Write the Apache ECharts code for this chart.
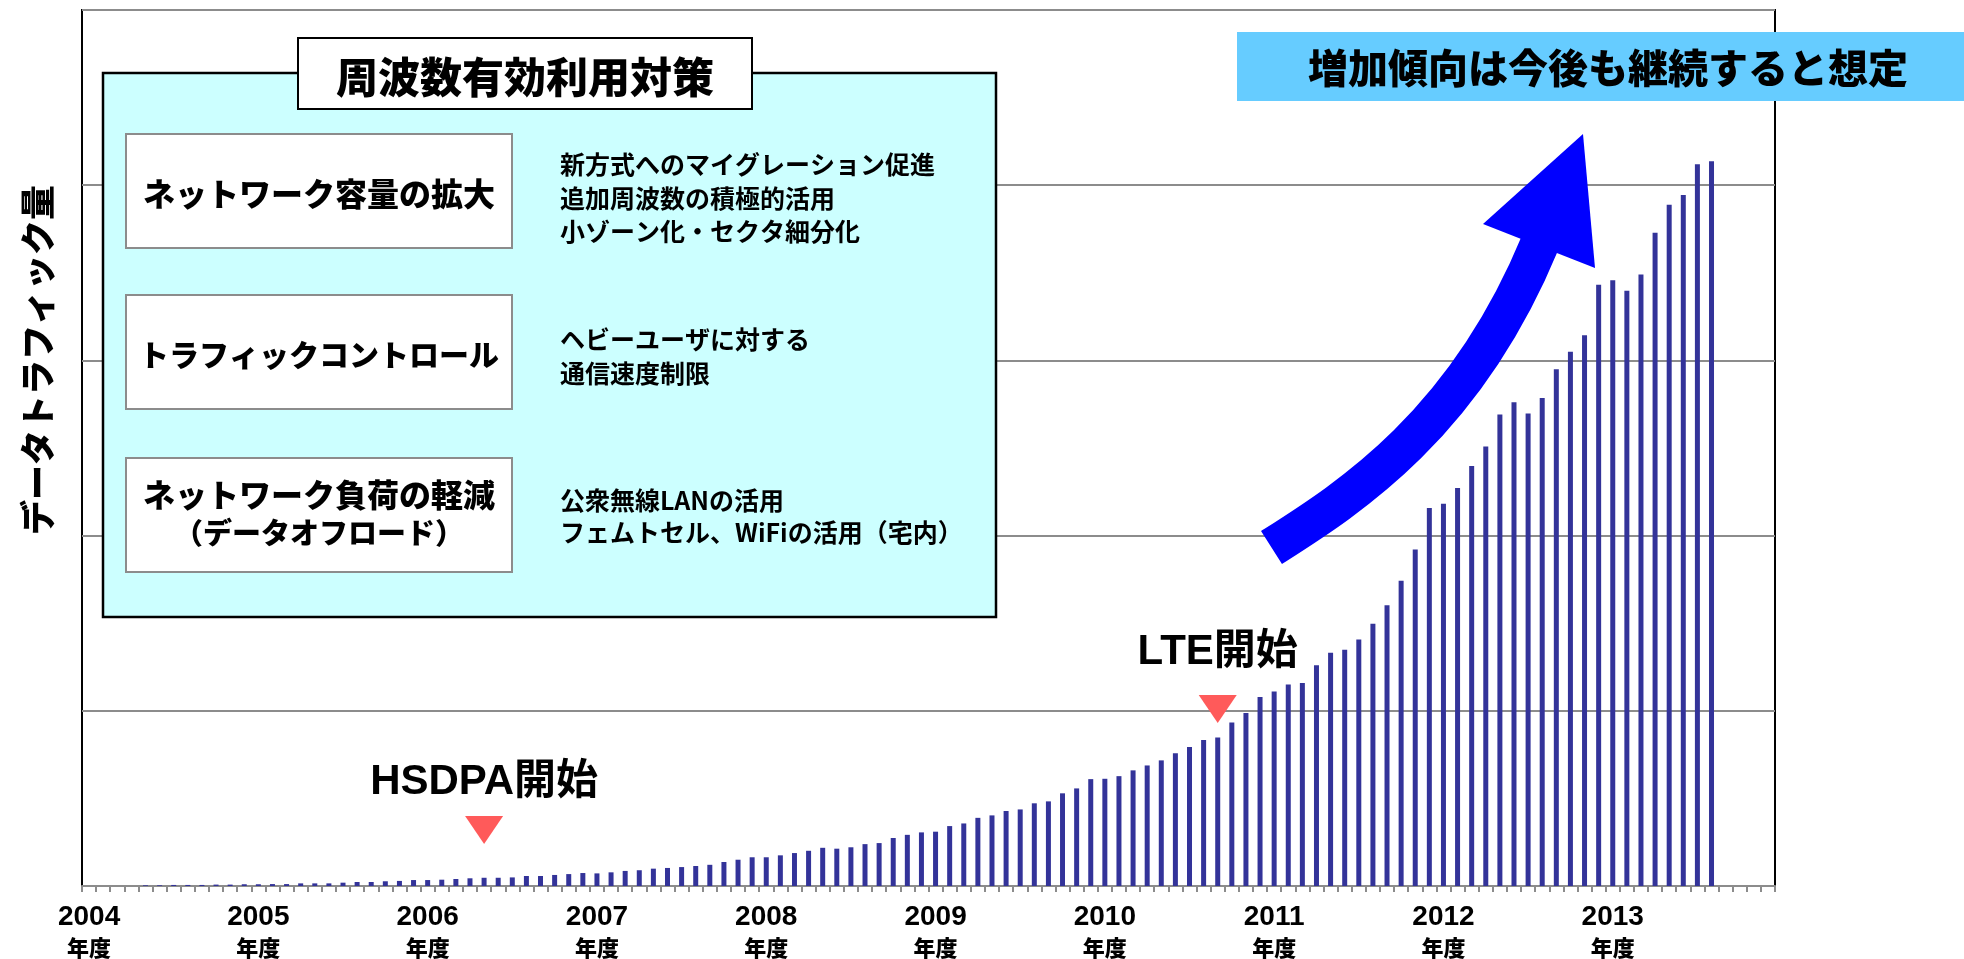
<!DOCTYPE html>
<html>
<head>
<meta charset="utf-8">
<script src="https://cdn.jsdelivr.net/npm/echarts@6/dist/echarts.min.js"></script>
<style>
html,body{margin:0;padding:0;background:#fff;}
#chart{width:1964px;height:959px;}
</style>
</head>
<body>
<div id="chart"></div>
<script>
// ---------------- DATA ----------------
const fiscalYears = ['2004','2005','2006','2007','2008','2009','2010','2011','2012','2013'];
const monthsOfFiscalYear = [4,5,6,7,8,9,10,11,12,1,2,3];
const yearUnitLabel = '年度';
// monthly data traffic (relative units, one gridline = 100), from Apr 2004
const trafficValues = [
  0,0,0,0,0.4,0.4,0.6,0.6,0.6,0.8,0.8,1.0,
  1.0,1.1,1.1,1.5,1.5,1.5,1.9,2.3,2.3,2.7,2.9,3.4,
  3.4,3.6,4.0,4.4,4.7,4.7,4.9,5.7,5.7,6.3,6.8,7.4,
  7.2,7.8,8.6,9.0,9.9,10.3,10.8,11.4,12.1,13.7,15.0,16.4,
  16.4,17.5,18.8,20.1,21.8,21.3,22.1,23.9,24.5,27.4,29.2,30.6,
  31.0,34.2,35.7,38.9,40.3,42.8,43.7,47.2,48.3,52.9,55.7,61.0,
  61.2,62.7,66.0,68.8,71.7,75.8,79.4,83.4,84.8,93.3,98.8,107.9,
  111.0,115.0,115.9,126.0,133.2,134.9,140.7,149.7,160.3,174.2,192.0,215.7,
  218.2,227.1,239.7,250.9,269.1,276.1,269.7,278.6,294.9,305.0,314.3,343.2,
  345.7,339.8,349.1,372.9,388.8,394.4,412.0,413.7
];
const milestoneNames = ['HSDPA開始','LTE開始'];
const milestoneMonthIndex = [28, 80];
const milestoneMarkerLevel = [32, 101];
const yAxisTitle = 'データトラフィック量';
const measuresTitle = '周波数有効利用対策';
const measureHeads = [['ネットワーク容量の拡大'], ['トラフィックコントロール'], ['ネットワーク負荷の軽減', '（データオフロード）']];
const measureDetails = [
  ['新方式へのマイグレーション促進', '追加周波数の積極的活用', '小ゾーン化・セクタ細分化'],
  ['ヘビーユーザに対する', '通信速度制限'],
  ['公衆無線LANの活用', 'フェムトセル、WiFiの活用（宅内）']
];
const trendNote = '増加傾向は今後も継続すると想定';

// ---------------- BUILD ----------------
const categories = fiscalYears.flatMap(fy => monthsOfFiscalYear.map(m => fy + '-' + m));
const JP = '"Noto Sans CJK JP", sans-serif';
const LAT = '"Liberation Sans", "Noto Sans CJK JP", sans-serif';

const chart = echarts.init(document.getElementById('chart'), null, {renderer: 'canvas'});

function txt(x, y, text, size, opts) {
  opts = opts || {};
  return {
    type: 'text', x: x, y: y, z: 100, rotation: opts.rotation || 0,
    style: {
      text: text, fill: '#000',
      font: (opts.weight || '900') + ' ' + size + 'px ' + (opts.family || JP),
      align: opts.align || 'center', textAlign: opts.align || 'center',
      verticalAlign: 'middle', textVerticalAlign: 'middle'
    }
  };
}

const graphics = [];
// y axis title
graphics.push(txt(38, 360, yAxisTitle, 35, {rotation: Math.PI / 2}));
// cyan panel
graphics.push({type: 'rect', z: 90, shape: {x: 103, y: 73, width: 893, height: 544},
  style: {fill: '#CCFFFF', stroke: '#000', lineWidth: 2.5}});
graphics.push({type: 'rect', z: 91, shape: {x: 298, y: 38, width: 454, height: 71},
  style: {fill: '#fff', stroke: '#000', lineWidth: 2}});
graphics.push(txt(525, 77, measuresTitle, 42));
const boxTops = [134, 295, 458];
const headSizes = [32, 30, 32];
const detailLineY = [[164, 198, 231], [339, 373], [500, 532]];
measureHeads.forEach((lines, i) => {
  graphics.push({type: 'rect', z: 91, shape: {x: 126, y: boxTops[i], width: 386, height: 114},
    style: {fill: '#fff', stroke: '#8c8c8c', lineWidth: 2}});
  if (lines.length === 1) {
    graphics.push(txt(319, boxTops[i] + 60, lines[0], headSizes[i]));
  } else {
    graphics.push(txt(319, boxTops[i] + 37, lines[0], 32));
    graphics.push(txt(319, boxTops[i] + 75, lines[1], 29));
  }
  measureDetails[i].forEach((line, j) => {
    graphics.push(txt(560, detailLineY[i][j], line, 25, {align: 'left', weight: 'bold'}));
  });
});
// trend banner
graphics.push({type: 'rect', z: 95, shape: {x: 1237, y: 32, width: 727, height: 69},
  style: {fill: '#66CCFF'}});
graphics.push(txt(1608, 68, trendNote, 40));
// big arrow
graphics.push({type: 'bezierCurve', z: 80,
  shape: {x1: 1271.5, y1: 547.5, cpx1: 1346, cpy1: 500, cpx2: 1464, cpy2: 427, x2: 1540, y2: 243},
  style: {stroke: '#0000FF', lineWidth: 39, fill: null, lineCap: 'butt'}});
graphics.push({type: 'polygon', z: 80,
  shape: {points: [[1483, 224], [1583, 134], [1595, 268]]},
  style: {fill: '#0000FF'}});

const milestoneData = milestoneNames.map((name, i) => ({
  name: name,
  value: [milestoneMonthIndex[i], milestoneMarkerLevel[i]],
  label: {distance: i === 0 ? 13 : 22}
}));

chart.setOption({
  animation: false,
  backgroundColor: '#fff',
  grid: {left: 82, right: 189, top: 10, bottom: 73, show: true, borderColor: '#000', borderWidth: 2, backgroundColor: 'transparent'},
  xAxis: {
    type: 'category', data: categories, boundaryGap: true,
    axisLine: {show: true, lineStyle: {color: '#8c8c8c', width: 2}},
    axisTick: {show: true, interval: 0, length: 6, lineStyle: {color: '#8c8c8c', width: 2}},
    axisLabel: {
      interval: (index) => index % 12 === 0,
      margin: 16,
      formatter: (value) => '{y|' + value.split('-')[0] + '}\n{n|' + yearUnitLabel + '}',
      rich: {
        y: {fontSize: 28, fontWeight: 'bold', fontFamily: LAT, color: '#000', lineHeight: 31},
        n: {fontSize: 22, fontWeight: 900, fontFamily: JP, color: '#000', lineHeight: 30}
      }
    },
    splitLine: {show: false}
  },
  yAxis: {
    type: 'value', min: 0, max: 500, interval: 100,
    axisLine: {show: false}, axisTick: {show: false}, axisLabel: {show: false},
    splitLine: {show: true, lineStyle: {color: '#8c8c8c', width: 2}}
  },
  series: [
    {
      type: 'bar', data: trafficValues, barWidth: 5,
      itemStyle: {color: '#333399'}, z: 3
    },
    {
      type: 'scatter', data: milestoneData,
      symbol: 'triangle', symbolRotate: 180, symbolSize: [38, 28],
      itemStyle: {color: '#FF5A5A', opacity: 1}, z: 5,
      label: {
        show: true, position: 'top', formatter: (p) => p.name,
        fontSize: 42, fontWeight: 'bold', fontFamily: LAT, color: '#000', opacity: 1
      }
    }
  ],
  graphic: {elements: graphics}
});
</script>
</body>
</html>
